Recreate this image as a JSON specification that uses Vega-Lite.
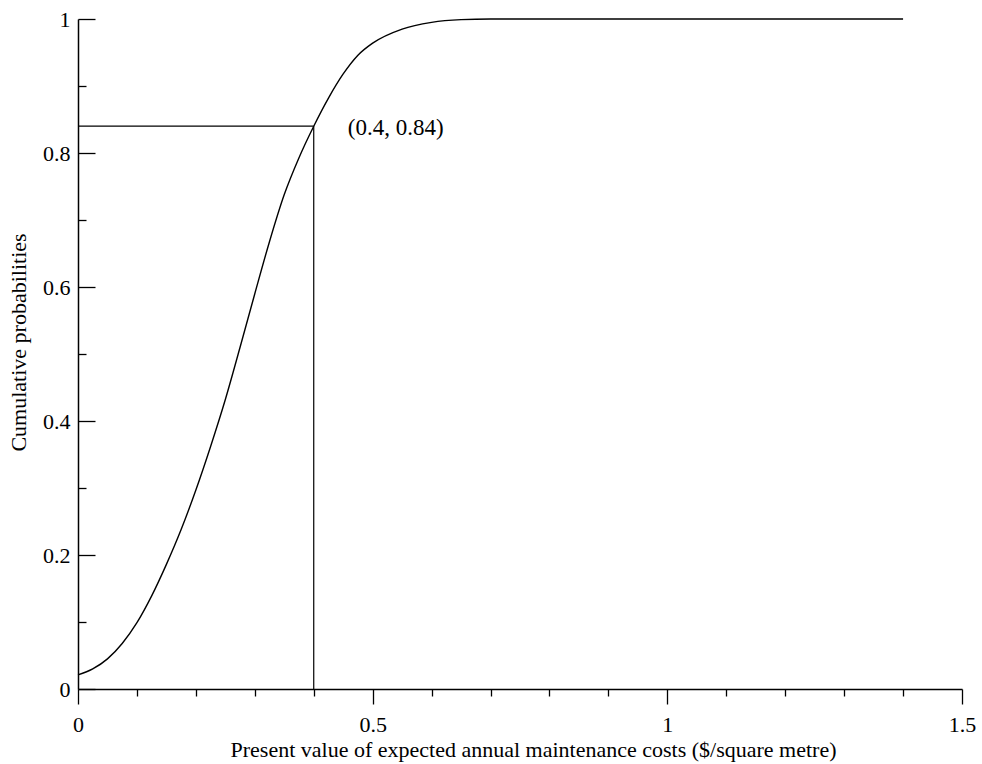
{
  "$schema": "https://vega.github.io/schema/vega-lite/v6.json",
  "width": 884,
  "height": 670,
  "autosize": "none",
  "padding": {"left": 78, "top": 19, "right": 20, "bottom": 75},
  "background": "white",
  "config": {
    "view": {"stroke": null},
    "font": "Liberation Serif",
    "axis": {
      "labelFont": "Liberation Serif",
      "titleFont": "Liberation Serif",
      "labelFontSize": 22,
      "titleFontSize": 22,
      "titleFontWeight": "normal",
      "labelColor": "black",
      "titleColor": "black",
      "domainColor": "black",
      "tickColor": "black",
      "domainWidth": 1.5,
      "tickWidth": 1.3,
      "grid": false
    }
  },
  "datasets": {
    "curve": [
      {"x": 0, "p": 0.021},
      {"x": 0.025, "p": 0.03},
      {"x": 0.05, "p": 0.045},
      {"x": 0.075, "p": 0.068},
      {"x": 0.1, "p": 0.099},
      {"x": 0.125, "p": 0.139},
      {"x": 0.15, "p": 0.186},
      {"x": 0.175, "p": 0.238},
      {"x": 0.2, "p": 0.297},
      {"x": 0.225, "p": 0.362},
      {"x": 0.25, "p": 0.432},
      {"x": 0.275, "p": 0.51},
      {"x": 0.3, "p": 0.59},
      {"x": 0.325, "p": 0.668},
      {"x": 0.35, "p": 0.738},
      {"x": 0.375, "p": 0.793},
      {"x": 0.4, "p": 0.84},
      {"x": 0.425, "p": 0.882},
      {"x": 0.45, "p": 0.918},
      {"x": 0.475, "p": 0.946},
      {"x": 0.5, "p": 0.964},
      {"x": 0.55, "p": 0.985},
      {"x": 0.6, "p": 0.995},
      {"x": 0.65, "p": 0.999},
      {"x": 0.7, "p": 1.0},
      {"x": 1.0, "p": 1.0},
      {"x": 1.4, "p": 1.0}
    ],
    "marker": [
      {"x": 0.4, "p": 0.84, "x0": 0, "p0": 0, "label": "(0.4, 0.84)"}
    ]
  },
  "layer": [
    {
      "data": {"name": "curve"},
      "mark": {"type": "line", "color": "black", "strokeWidth": 1.4, "interpolate": "monotone"},
      "encoding": {
        "x": {
          "field": "x", "type": "quantitative",
          "scale": {"domain": [0, 1.5], "nice": false, "zero": false},
          "axis": {
            "title": "Present value  of expected annual maintenance costs ($/square metre)",
            "values": [0, 0.1, 0.2, 0.3, 0.4, 0.5, 0.6, 0.7, 0.8, 0.9, 1.0, 1.1, 1.2, 1.3, 1.4, 1.5],
            "format": ".1~f",
            "labelExpr": "abs(datum.value*2 - round(datum.value*2)) < 0.000001 ? datum.label : ''",
            "tickSize": {"condition": {"test": "abs(datum.value*2 - round(datum.value*2)) < 0.000001", "value": 15}, "value": 7},
            "labelPadding": 10,
            "labelFlush": false,
            "labelOverlap": false,
            "titleX": 455,
            "titleY": 67,
            "titleBaseline": "alphabetic",
            "titleAnchor": "middle",
            "titleAlign": "center"
          }
        },
        "y": {
          "field": "p", "type": "quantitative",
          "scale": {"domain": [0, 1], "nice": false, "zero": false},
          "axis": {
            "title": "Cumulative probabilities",
            "values": [0, 0.1, 0.2, 0.3, 0.4, 0.5, 0.6, 0.7, 0.8, 0.9, 1.0],
            "format": ".1~f",
            "labelExpr": "abs(datum.value*5 - round(datum.value*5)) < 0.000001 ? datum.label : ''",
            "tickSize": {"condition": {"test": "abs(datum.value*5 - round(datum.value*5)) < 0.000001", "value": -17}, "value": -8},
            "labelPadding": 25,
            "labelFlush": false,
            "labelOverlap": false,
            "titleY": 323,
            "titleX": -48
          }
        }
      }
    },
    {
      "data": {"name": "marker"},
      "mark": {"type": "rule", "color": "black", "strokeWidth": 1.2},
      "encoding": {
        "x": {"field": "x", "type": "quantitative"},
        "y": {"field": "p0", "type": "quantitative"},
        "y2": {"field": "p"}
      }
    },
    {
      "data": {"name": "marker"},
      "mark": {"type": "rule", "color": "black", "strokeWidth": 1.2},
      "encoding": {
        "x": {"field": "x0", "type": "quantitative"},
        "x2": {"field": "x"},
        "y": {"field": "p", "type": "quantitative"}
      }
    },
    {
      "data": {"name": "marker"},
      "mark": {"type": "text", "align": "left", "baseline": "middle", "font": "Liberation Serif", "fontSize": 23, "dx": 34, "dy": 2, "color": "black"},
      "encoding": {
        "x": {"field": "x", "type": "quantitative"},
        "y": {"field": "p", "type": "quantitative"},
        "text": {"field": "label"}
      }
    }
  ]
}
